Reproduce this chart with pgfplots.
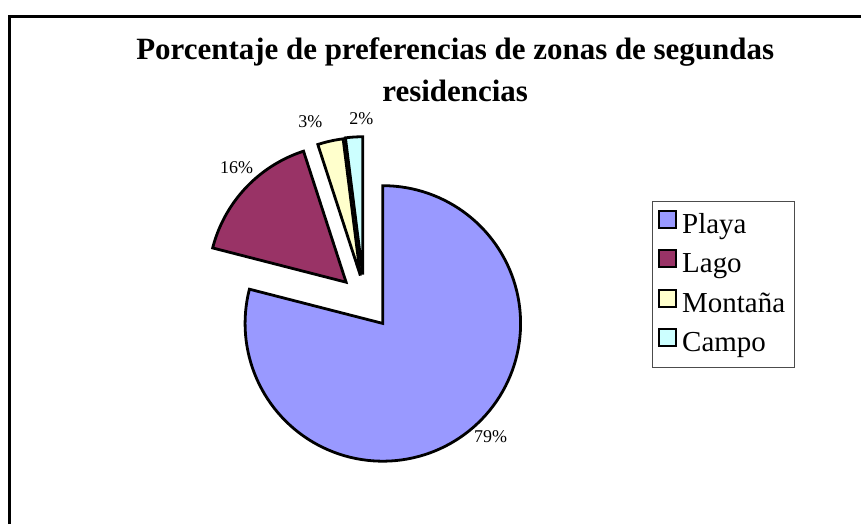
\documentclass[border=0pt]{standalone}
\usepackage{pgfplots}
\pgfplotsset{compat=1.18}
\usepackage{fontspec}
\setmainfont{Liberation Serif}
\definecolor{cPlaya}{HTML}{9999FF}
\definecolor{cLago}{HTML}{993366}
\definecolor{cMont}{HTML}{FFFFCC}
\definecolor{cCampo}{HTML}{CCFFFF}
% #1 colour, #2 cumulative percent before, #3 percent, #4 vertex x, #5 vertex y
\newcommand\pieslice[5]{%
  \pgfmathsetmacro\aS{90-3.6*(#2+#3)}%
  \pgfmathsetmacro\aE{90-3.6*#2}%
  \addplot[fill=#1, draw=black, line width=2.8pt, line join=miter,
    domain=\aS:\aE, samples=120, variable=\t,
    legend image code/.code={\filldraw[fill=#1,draw=black,line width=2pt] (0pt,-1pt) rectangle (17pt,16pt);}]
    ({#4+138*cos(\t)}, {#5-138*sin(\t)}) -- (axis cs:#4,#5) -- cycle;
}
\begin{document}
\begin{tikzpicture}
\begin{axis}[scale only axis, width=862pt, height=525pt,
  xmin=0, xmax=862, ymin=0, ymax=525, y dir=reverse,
  hide axis, clip=false,
  legend cell align=left,
  legend style={at={(axis cs:653,201)}, anchor=north west,
    draw=black!70, line width=0.8pt,
    font=\fontsize{29}{32}\selectfont,
    inner xsep=6pt, inner ysep=9pt,
    row sep=9pt, column sep=2pt,
    nodes={inner xsep=3pt, inner ysep=0pt, text height=20pt, text depth=7pt}},
]
\path (axis cs:0,0) rectangle (axis cs:862,525);
% values: Playa 79, Lago 16, Montana 3, Campo 2
\pieslice{cPlaya}{0}{79}{383.5}{324}
\addlegendentry{Playa}
\pieslice{cLago}{79}{16}{346.7}{282.7}
\addlegendentry{Lago}
\pieslice{cMont}{95}{3}{361}{276}
\addlegendentry{Montaña}
\pieslice{cCampo}{98}{2}{363.3}{275}
\addlegendentry{Campo}
\draw[black, line width=3pt] (axis cs:9.5,525) -- (axis cs:9.5,16.5) -- (axis cs:862,16.5);
\node[font=\bfseries\fontsize{31}{42}\selectfont, align=center, anchor=base]
  at (axis cs:456,102) {Porcentaje de preferencias de zonas de segundas\\residencias};
\node[font=\fontsize{18}{20}\selectfont] at (axis cs:237,168) {16\%};
\node[font=\fontsize{18}{20}\selectfont] at (axis cs:311,122) {3\%};
\node[font=\fontsize{18}{20}\selectfont] at (axis cs:362,119) {2\%};
\node[font=\fontsize{18}{20}\selectfont] at (axis cs:491.5,437) {79\%};
\end{axis}
\end{tikzpicture}
\end{document}
